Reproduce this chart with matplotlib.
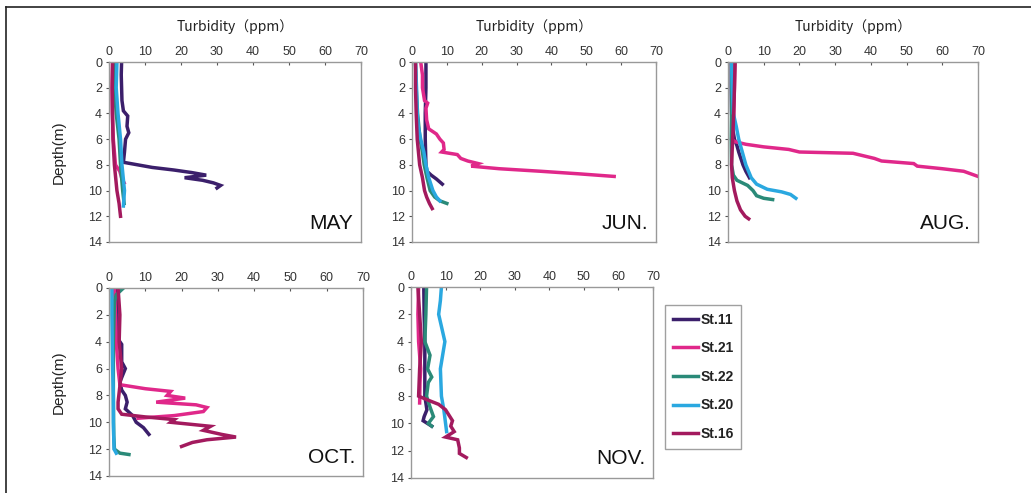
import matplotlib.pyplot as plt
from matplotlib.lines import Line2D

plt.rcParams['font.family'] = ['Liberation Sans', 'DejaVu Sans']

stations = ['St.11', 'St.21', 'St.22', 'St.20', 'St.16']
colors = {'St.11': '#3b1f6b', 'St.21': '#e0288a', 'St.22': '#2a8a78',
          'St.20': '#2aa8e0', 'St.16': '#a31a5e'}
months = ['MAY', 'JUN.', 'AUG.', 'OCT.', 'NOV.']

# profiles: month -> station -> (depth list, turbidity list)
may_11_d = [0, 1, 2, 3, 3.8, 4.2, 5, 5.5, 6, 7, 7.8, 8.0, 8.2, 8.4, 8.6, 8.8, 9.0, 9.2, 9.4, 9.6, 9.8]
may_11_t = [3.5, 3.4, 3.5, 3.6, 4.0, 5.2, 5.0, 5.5, 4.6, 4.3, 4.0, 8, 12, 18, 23, 27, 21, 26, 29, 31, 30]
may_21_d = [0, 2, 4, 6, 8, 8.5, 9.0, 9.4]
may_21_t = [1.0, 0.8, 0.9, 1.2, 1.8, 3.0, 3.5, 4.2]
may_22_d = [0, 2, 4, 6, 8, 10, 11]
may_22_t = [1.5, 1.5, 2.0, 2.8, 3.2, 3.8, 4.2]
may_20_d = [0, 2, 4, 6, 8, 10, 11.2]
may_20_t = [2.2, 2.0, 2.5, 3.2, 3.6, 4.3, 4.0]
may_16_d = [0, 2, 4, 6, 8, 10, 11, 12]
may_16_t = [1.0, 0.9, 1.0, 1.1, 1.5, 2.2, 2.8, 3.2]

jun_11_d = [0, 2, 4, 6, 8, 8.5, 8.8, 9.1, 9.5]
jun_11_t = [4.0, 4.0, 3.8, 3.8, 4.0, 4.3, 5.5, 7.0, 8.7]
jun_21_d = [0, 1, 2, 3, 3.2, 3.6, 4.5, 5.2, 5.6, 6.0, 6.3, 6.8, 7.0, 7.2, 7.5, 7.7, 7.9, 8.1, 8.3, 8.5, 8.7, 8.9]
jun_21_t = [2.5, 3.0, 3.0, 3.6, 4.5, 4.0, 4.2, 4.8, 7.0, 8.0, 9.0, 9.2, 8.5, 13, 14, 16, 19, 17, 25, 37, 48, 58]
jun_22_d = [0, 2, 4, 6, 7, 8, 9, 10, 10.5, 10.8, 11.0]
jun_22_t = [1.0, 1.2, 1.6, 2.3, 3.0, 3.5, 4.3, 5.2, 6.5, 8.0, 10.0]
jun_20_d = [0, 2, 4, 5, 6, 7, 8, 9, 10, 10.5, 10.8]
jun_20_t = [1.0, 1.3, 1.5, 1.8, 2.5, 3.4, 4.0, 4.8, 6.0, 7.0, 8.0]
jun_16_d = [0, 2, 4, 6, 8, 9, 10, 10.5, 11, 11.4]
jun_16_t = [1.0, 1.0, 1.2, 1.5, 2.2, 3.0, 3.6, 4.2, 5.0, 5.8]

aug_11_d = [0, 2, 4, 5, 6, 6.5, 7, 7.5, 8, 8.5, 9.0]
aug_11_t = [0.9, 0.9, 1.0, 1.2, 1.8, 2.5, 3.0, 3.6, 4.2, 5.0, 6.0]
aug_21_d = [0, 2, 4, 5, 6, 6.2, 6.4, 6.6, 6.8, 7.0, 7.1, 7.3, 7.5, 7.7, 7.9, 8.1, 8.3, 8.5, 8.7, 8.9]
aug_21_t = [1.9, 1.8, 1.6, 1.4, 1.0, 2.0, 5.0, 10, 17, 20, 35, 38, 41, 43, 52, 53, 60, 66, 68, 70]
aug_22_d = [0, 2, 4, 6, 8, 8.8, 9.2, 9.6, 10.0, 10.4, 10.6, 10.7]
aug_22_t = [1.0, 1.0, 1.0, 0.9, 1.0, 1.5, 2.5, 5.5, 7.0, 8.0, 10.0, 12.5]
aug_20_d = [0, 2, 4, 5, 6, 7, 8, 9, 9.5, 9.9, 10.1, 10.3, 10.6]
aug_20_t = [1.0, 1.2, 1.5, 2.3, 3.0, 4.0, 5.0, 6.5, 8.0, 11.0, 15.0, 17.5, 19.0]
aug_16_d = [0, 2, 4, 6, 8, 9, 10, 10.8, 11.5, 12.0, 12.2]
aug_16_t = [2.0, 1.8, 1.6, 1.3, 1.0, 1.2, 1.8, 2.5, 3.5, 4.8, 5.8]

oct_11_d = [0, 2, 3.8, 4.2, 5.5, 6.0, 7.0, 7.6, 8.0, 8.5, 9.0, 9.5, 10.0, 10.4, 10.9]
oct_11_t = [2.0, 2.2, 2.5, 3.5, 3.5, 4.5, 3.0, 3.5, 4.5, 5.0, 4.5, 6.5, 7.5, 9.5, 11.0]
oct_21_d = [0, 2, 4, 6, 7.2, 7.5, 7.7, 8.0, 8.2, 8.5, 8.7, 8.9, 9.2, 9.5, 9.7]
oct_21_t = [1.5, 1.8, 2.0, 2.5, 3.0, 10.0, 17.0, 16.0, 21.0, 13.0, 24.0, 27.0, 26.0, 18.0, 8.0]
oct_22_d = [0, 0.5, 1, 4, 8, 11, 12.0, 12.3, 12.4]
oct_22_t = [4.0, 2.0, 1.5, 1.2, 1.2, 1.3, 1.5, 3.0, 5.5]
oct_20_d = [0, 2, 4, 6, 8, 10, 12.0, 12.3]
oct_20_t = [0.8, 0.8, 0.9, 1.0, 1.2, 1.2, 1.4, 2.0]
oct_16_d = [0, 2, 4, 6, 7.3, 8.5, 9.0, 9.4, 9.6, 9.8, 10.0, 10.3, 10.6, 10.9, 11.1, 11.3, 11.5, 11.8]
oct_16_t = [2.5, 3.0, 2.8, 3.5, 3.0, 2.5, 2.5, 3.5, 10.0, 18.0, 17.0, 28.0, 26.0, 31.0, 35.0, 27.0, 23.0, 20.0]

nov_11_d = [0, 2, 4, 6, 8, 9.0, 9.5, 9.8, 10.2]
nov_11_t = [3.7, 3.8, 4.0, 4.0, 4.0, 4.6, 3.8, 3.5, 6.0]
nov_21_d = [0, 2, 4, 6, 7, 8.5]
nov_21_t = [2.2, 2.0, 2.2, 2.8, 2.6, 2.5]
nov_22_d = [0, 2, 4, 5, 6, 6.6, 7, 8, 8.8, 9.5, 10.0, 10.2]
nov_22_t = [4.5, 4.3, 4.0, 5.5, 4.8, 6.0, 5.0, 4.5, 5.5, 6.5, 5.0, 6.0]
nov_20_d = [0, 1, 2, 4, 6, 8, 9, 10, 10.6]
nov_20_t = [8.8, 8.5, 8.0, 9.8, 8.5, 8.8, 9.5, 10.0, 10.3]
nov_16_d = [0, 2, 4, 6, 8, 8.3, 8.6, 9.0, 9.4, 9.8, 10.2, 10.6, 11.0, 11.2, 11.8, 12.2, 12.5]
nov_16_t = [2.0, 2.5, 3.0, 2.5, 2.2, 5.0, 8.0, 10.0, 11.0, 12.0, 11.5, 12.5, 10.0, 13.5, 14.0, 14.0, 16.0]

profiles = {
    'MAY': {'St.11': (may_11_d, may_11_t), 'St.21': (may_21_d, may_21_t),
            'St.22': (may_22_d, may_22_t), 'St.20': (may_20_d, may_20_t),
            'St.16': (may_16_d, may_16_t)},
    'JUN.': {'St.11': (jun_11_d, jun_11_t), 'St.21': (jun_21_d, jun_21_t),
             'St.22': (jun_22_d, jun_22_t), 'St.20': (jun_20_d, jun_20_t),
             'St.16': (jun_16_d, jun_16_t)},
    'AUG.': {'St.11': (aug_11_d, aug_11_t), 'St.21': (aug_21_d, aug_21_t),
             'St.22': (aug_22_d, aug_22_t), 'St.20': (aug_20_d, aug_20_t),
             'St.16': (aug_16_d, aug_16_t)},
    'OCT.': {'St.11': (oct_11_d, oct_11_t), 'St.21': (oct_21_d, oct_21_t),
             'St.22': (oct_22_d, oct_22_t), 'St.20': (oct_20_d, oct_20_t),
             'St.16': (oct_16_d, oct_16_t)},
    'NOV.': {'St.11': (nov_11_d, nov_11_t), 'St.21': (nov_21_d, nov_21_t),
             'St.22': (nov_22_d, nov_22_t), 'St.20': (nov_20_d, nov_20_t),
             'St.16': (nov_16_d, nov_16_t)},
}

# axes boxes in pixels: left, top, right, bottom
W, H = 1031, 493
boxes = {
    'MAY': (109, 62, 361, 242),
    'JUN.': (412, 62, 656, 242),
    'AUG.': (728, 62, 978, 242),
    'OCT.': (109, 288, 363, 476),
    'NOV.': (411, 287, 653, 478),
}

fig = plt.figure(figsize=(W / 100, H / 100), dpi=100)

# outer frame (top and left edges)
fig.add_artist(Line2D([6 / W, 6 / W], [0, 1 - 7 / H], color='#222222', lw=1.2))
fig.add_artist(Line2D([6 / W, 1], [1 - 7 / H, 1 - 7 / H], color='#222222', lw=1.2))

for m in months:
    l, t, r, b = boxes[m]
    ax = fig.add_axes([l / W, 1 - b / H, (r - l) / W, (b - t) / H])
    for st in stations:
        d, v = profiles[m][st]
        ax.plot(v, d, color=colors[st], lw=2.5, solid_joinstyle='miter')
    ax.set_xlim(0, 70)
    ax.set_ylim(14, 0)
    ax.set_xticks(range(0, 71, 10))
    ax.set_yticks(range(0, 15, 2))
    ax.xaxis.tick_top()
    ax.tick_params(axis='both', labelsize=9, colors='#555555', labelcolor='#333333',
                   length=2.5, width=0.8, pad=3, direction='in')
    ax.tick_params(axis='y', direction='out', length=2)
    for sp in ax.spines.values():
        sp.set_color('#999999')
        sp.set_linewidth(1.0)
    ax.text(0.97, 0.05, m, transform=ax.transAxes, ha='right', va='bottom',
            fontsize=15, color='#111111')
    if m in ('MAY', 'JUN.', 'AUG.'):
        ax.set_xlabel('Turbidity（ppm）', fontsize=10, color='#222222', labelpad=11,
                      family=['Noto Sans CJK JP', 'DejaVu Sans'])
        ax.xaxis.set_label_position('top')
    if m in ('MAY', 'OCT.'):
        ax.set_ylabel('Depth(m)', fontsize=11, color='#222222', labelpad=16)

# legend
handles = [Line2D([0], [0], color=colors[st], lw=2.5) for st in stations]
leg = fig.legend(handles, stations, loc='upper left',
                 bbox_to_anchor=(665 / W, 1 - 305 / H), frameon=True,
                 fancybox=False, handlelength=1.8, handletextpad=0.2,
                 labelspacing=1.05, borderpad=0.55, borderaxespad=0,
                 prop={'weight': 'bold', 'size': 10})
leg.get_frame().set_edgecolor('#888888')
leg.get_frame().set_linewidth(1.0)
for txt in leg.get_texts():
    txt.set_color('#222222')

fig.savefig('out.png', dpi=100, facecolor='white')
